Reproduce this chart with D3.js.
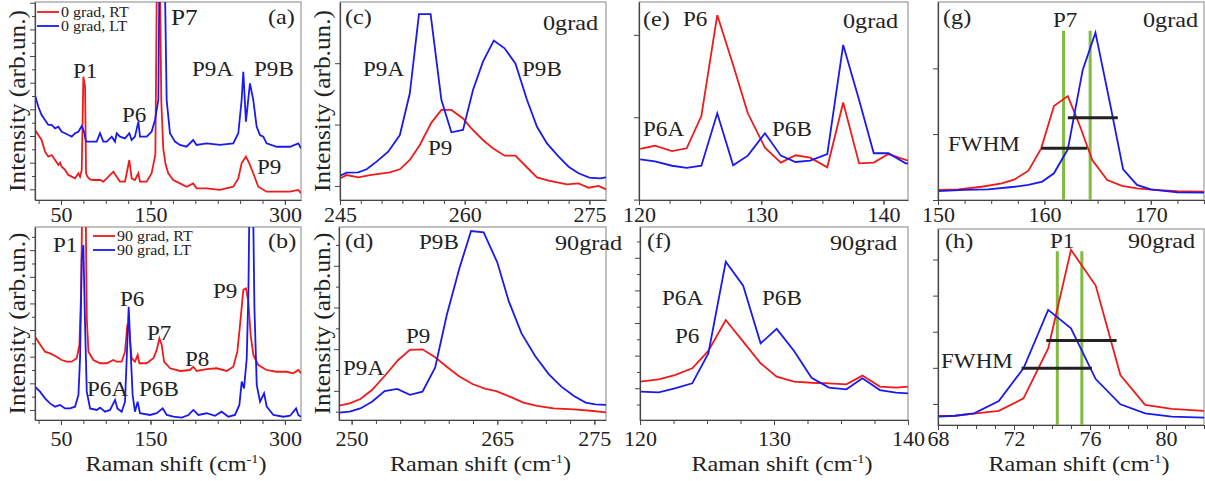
<!DOCTYPE html>
<html>
<head>
<meta charset="utf-8">
<script src="https://cdn.jsdelivr.net/npm/d3@7"></script>
<style>
body { margin: 0; background: #fff; }
svg text { font-family: "Liberation Serif", "Times New Roman", serif; fill: #222; }
</style>
</head>
<body>
<svg id="fig" width="1205" height="481"></svg>
<script>
// spectra: [Raman shift (cm-1), intensity (arb. un.)]
var aRed = [[21,3.54],[24.7,3.28],[28.4,3.03],[32.2,2.44],[35.9,2.19],[39.6,2.27],[43.4,2.02],[47.1,1.77],[49,1.89],[50.8,1.68],[54.5,1.52],[58.3,1.26],[62,1.18],[65.7,1.09],[69.4,1.35],[71.3,1.18],[73.2,1.52],[75,6.23],[76.9,5.72],[78,1.35],[79.5,1.18],[82.5,1.04],[86.2,1.01],[93.6,1.01],[97.3,0.93],[101.1,1.09],[108.5,1.43],[112.2,1.18],[115.9,0.93],[121.5,0.93],[126.3,2.02],[128.9,1.09],[132.6,1.01],[136.4,1.35],[138.2,0.93],[145.7,0.93],[151.2,1.35],[155.4,2.3],[157.6,14],[159.8,14],[162,5],[164.2,2.6],[166.8,1.8],[169.8,1.35],[175.3,1.01],[182.8,0.84],[190.2,0.67],[197.6,0.84],[201.4,0.59],[212.6,0.59],[227.5,0.51],[242.4,0.67],[248,1.09],[251.7,1.85],[256.5,2.19],[260.3,1.85],[264.7,1.35],[270.3,0.67],[279.6,0.42],[290.8,0.42],[305.7,0.42],[315,0.51],[318,0.34]];
var aBlue = [[21,5.3],[24.7,4.71],[28.4,4.29],[32.2,4.04],[35.9,3.79],[39.6,3.79],[43.4,3.62],[47.1,3.7],[50.8,3.45],[54.5,3.37],[58.3,3.28],[62,3.2],[65.7,3.37],[69.4,3.45],[73.2,3.74],[75.7,3.45],[78,2.95],[82.5,2.95],[89.9,2.95],[93.6,3.37],[97.3,2.95],[101.1,2.95],[106.7,3.2],[110.3,2.95],[112.2,3.37],[115.9,3.2],[121.5,3.11],[126.3,3.37],[128.9,3.03],[132.6,3.2],[136.4,3.96],[138.2,3.2],[145.7,3.2],[151.2,3.45],[155,4.04],[158.7,5.05],[160.5,14],[165,14],[168,5.05],[171.7,3.37],[177.3,2.95],[182.8,2.78],[190.2,2.69],[197.6,3.03],[201.4,2.78],[212.6,2.86],[227.5,2.78],[242.4,2.86],[248,3.37],[251.7,5.05],[253.6,6.48],[256.5,3.96],[261,5.89],[264.7,5.05],[268.5,3.7],[272.2,3.28],[275.9,3.2],[279.6,2.86],[290.8,2.69],[305.7,2.69],[315,2.86],[318,2.61]];
var bRed = [[21,4.32],[24.7,4.06],[28.4,3.8],[32.2,3.54],[37.8,3.45],[45.2,3.28],[50.8,3.11],[56.4,3.02],[62,3.02],[67.6,3.2],[70.6,3.89],[72.5,6.65],[74.4,14],[77,14],[78.8,5.27],[80.7,3.54],[86.2,3.11],[93.6,2.94],[101.1,2.94],[108.5,3.11],[112.2,3.02],[117.8,3.02],[121.5,3.54],[124.1,4.92],[125.6,4.92],[128.9,3.2],[132.6,3.02],[135.6,3.37],[137.5,2.94],[145.7,2.94],[153.2,3.2],[156.9,3.63],[159.9,4.23],[162.5,3.89],[165.1,3.02],[171.8,2.68],[182.9,2.54],[194.1,2.59],[197.8,2.76],[201.5,2.54],[212.7,2.64],[223.8,2.68],[235,2.54],[242.4,2.76],[246.9,3.54],[249.9,4.92],[253.6,6.74],[256.6,6.82],[259.2,6.13],[261.8,4.4],[264.8,3.37],[270.3,2.85],[279.6,2.59],[290.8,2.5],[301.9,2.5],[309.4,2.42],[315,2.59],[318,2.42]];
var bBlue = [[21,1.73],[26.6,1.47],[32.2,1.12],[37.8,0.86],[43.4,0.69],[49,0.78],[54.5,0.6],[60.2,0.6],[65.7,0.69],[69.5,1.3],[71.3,3.2],[73.2,8.38],[75,9.07],[76.9,4.92],[78.8,1.47],[82.5,0.6],[89.9,0.52],[93.6,0.64],[99.2,0.43],[104.8,0.52],[110.4,1.04],[113,0.6],[117.8,0.43],[121.5,0.95],[123.4,3.2],[125.6,5.87],[127.8,3.54],[130,1.3],[132.6,0.43],[135.6,0.95],[138.2,0.35],[149.4,0.26],[156.9,0.35],[163.6,0.6],[168.1,0.26],[175.5,0.17],[184.8,0.12],[192.3,0.26],[197.8,0.52],[203.4,0.26],[212.7,0.35],[222,0.22],[229.4,0.43],[236.9,0.17],[244.3,0.26],[249.2,0.78],[251.8,1.99],[254.4,1.64],[257.4,3.2],[259.3,6.65],[261.1,14],[263.7,14],[266,5.79],[268.6,1.81],[272.3,0.95],[276.8,1.38],[279.7,0.69],[287.2,0.26],[298.3,0.17],[305.8,0.22],[312.5,0.6],[315,0.26],[318,0.17]];
var cRed = [[245,1.09],[245.8,1.26],[247.2,1.14],[248.6,1.26],[251,1.4],[252.2,1.55],[253.4,2.02],[254.6,2.78],[256,3.91],[257.2,4.55],[258.4,4.55],[259.8,4.12],[260.8,3.62],[262.2,3.03],[263.4,2.61],[264.8,2.24],[266.1,2.24],[267.3,1.73],[268.7,1.14],[270.1,0.98],[272.3,0.79],[273.7,0.84],[274.9,0.62],[276.1,0.71],[277,0.54]];
var cBlue = [[245,1.23],[245.8,1.38],[247.2,1.4],[248.2,1.55],[249.4,1.94],[250.8,2.44],[252.2,3.28],[253.4,5.39],[254.5,9.39],[255.9,9.39],[257.2,5.05],[258.4,3.42],[259.8,3.54],[261,5.56],[262.2,6.99],[263.5,8.05],[264.8,7.66],[266.1,6.9],[267.5,5.05],[268.7,3.7],[269.9,2.86],[271.3,2.19],[272.5,1.68],[273.7,1.35],[275,1.13],[276.3,1.09],[277,1.14]];
var dRed = [[248.7,0.74],[249.8,0.86],[250.9,1.09],[252.1,1.55],[253.4,2.28],[254.8,3.11],[256,3.63],[257.3,3.66],[258.6,3.25],[259.8,2.76],[261.1,2.25],[262.5,1.85],[263.8,1.61],[264.9,1.5],[266.3,1.21],[267.7,0.9],[269.1,0.73],[270.8,0.6],[272.9,0.55],[274.6,0.48],[276.2,0.4]];
var dBlue = [[248.7,0.38],[249.8,0.43],[250.9,0.6],[252.1,0.95],[253.4,1.5],[254.7,1.61],[256,1.3],[257.3,1.47],[258.6,2.71],[259.8,5.44],[261.1,7.86],[262.3,9.79],[263.6,9.72],[265,8.17],[266.2,6.13],[267.5,4.49],[268.9,3.32],[270.3,2.38],[271.6,1.73],[272.9,1.24],[274.1,0.9],[275.1,0.81],[276.2,0.78]];
var eRed = [[120.1,2.58],[121.3,2.74],[122.7,2.47],[123.9,2.61],[125.1,4.24],[126.4,9.34],[127.7,6.82],[128.9,4.38],[130.3,2.64],[131.6,1.89],[132.8,2.26],[134,2.14],[135.4,1.65],[136.7,4.92],[138,1.85],[139.2,1.89],[140.4,2.32],[142,1.99]];
var eBlue = [[120.1,2.05],[121.3,1.95],[122.7,1.73],[123.9,1.62],[125.1,1.73],[126.4,4.38],[127.7,1.75],[128.9,2.24],[130.3,3.37],[131.6,2.24],[132.8,1.92],[134,1.99],[135.4,2.32],[136.7,7.83],[138,5.05],[139.2,2.36],[140.4,2.36],[141.8,1.85],[142,1.85]];
var fRed = [[120,1.99],[121.4,2.11],[122.6,2.33],[123.9,2.68],[125.1,3.58],[126.4,5.18],[127.7,4.06],[129,2.94],[130.2,2.25],[131.5,1.99],[132.8,1.93],[134.1,1.9],[135.4,1.85],[136.6,2.3],[137.9,1.73],[139.1,1.68],[140,1.73]];
var fBlue = [[120,1.47],[121.4,1.43],[122.6,1.64],[123.9,1.9],[125.1,3.45],[126.4,8.2],[127.7,6.96],[129,3.97],[130.2,4.72],[131.5,3.58],[132.8,2.19],[134.1,1.68],[135.4,1.59],[136.6,2.16],[137.9,1.55],[139.1,1.42],[140,1.38]];
var gRed = [[150,0.51],[151.9,0.54],[154.1,0.67],[156,0.84],[157.2,1.04],[158.5,1.48],[159.7,2.61],[160.9,4.75],[162.2,5.25],[163.3,3.79],[164.5,2.02],[165.9,1.01],[167.3,0.71],[168.7,0.59],[170.3,0.51],[172.5,0.45],[175,0.42]];
var gBlue = [[150,0.45],[152.5,0.51],[154.7,0.54],[157.2,0.67],[158.5,0.76],[159.8,0.93],[160.9,1.35],[162.2,2.56],[163.6,6.57],[164.8,8.45],[166.1,5.05],[167.4,1.55],[168.7,0.76],[170,0.54],[172.5,0.39],[175,0.37]];
var hRed = [[68,0.47],[68.9,0.48],[69.9,0.59],[71.2,0.73],[72.5,1.38],[73.8,3.97],[75,9.07],[76.3,7.22],[77.6,2.59],[78.9,1.04],[80.3,0.83],[82,0.73]];
var hBlue = [[68,0.43],[68.9,0.48],[69.9,0.6],[71.2,1.24],[72.5,2.94],[73.8,5.96],[75,5.01],[76.3,2.38],[77.6,1.07],[78.9,0.6],[80.3,0.43],[82,0.38]];

// peak positions (green markers) and FWHM bars [from, to, level]
var gPeaks = [161.8, 164.3];
var gFwhm = [[159.7, 164.0, 2.61], [162.2, 166.9, 4.16]];
var hPeaks = [74.28, 75.57];
var hFwhm = [[72.4, 76.1, 2.94], [73.7, 77.4, 4.37]];

// tick labels
var abTicks = [50, 150, 300];
var cTicks = [245, 260, 275];
var dTicks = [250, 265, 275];
var efTicks = [120, 130, 140];
var gTicks = [150, 160, 170];
var hTicks = [68, 72, 76, 80];

var RED = "#f01a1a", BLUE = "#1a1aee", GREEN = "#80bb40";
var SX = 1.1;
var svg = d3.select("#fig");

var panels = [
  { id: "a", box: [35, 2, 301, 200], xd: [21, 318], yd: [0, 10], step: 25, labels: abTicks, top: true,
    red: aRed, blue: aBlue, yt: d3.range(0.54, 10, 0.673), ymaj: 0,
    notes: [["(a)", 268, 24, 22], ["P1", 73, 78, 21], ["P6", 122, 122, 21], ["P7", 171, 25, 23],
            ["P9A", 192, 76, 21], ["P9B", 254, 76, 21], ["P9", 257, 174, 21]],
    legend: ["0 grad, RT", "0 grad, LT"], lg: [37, 12] },
  { id: "b", box: [35, 227, 301, 420], xd: [21, 318], yd: [0, 10], step: 25, labels: abTicks, top: false,
    red: bRed, blue: bBlue, yt: d3.range(0.52, 10, 0.69), ymaj: 0,
    notes: [["(b)", 268, 248, 22], ["P1", 53, 252, 21], ["P6", 120, 306, 21], ["P7", 147, 340, 21],
            ["P8", 185, 366, 21], ["P9", 213, 298, 21], ["P6A", 87, 396, 21], ["P6B", 139, 396, 21]],
    legend: ["90 grad, RT", "90 grad, LT"], lg: [93, 236] },
  { id: "c", box: [340, 2, 606, 200], xd: [245, 277], yd: [0, 10], step: 2.5, labels: cTicks, top: true,
    red: cRed, blue: cBlue, yt: d3.range(0.71, 10, 3.1), ymaj: -1,
    notes: [["(c)", 345, 24, 22], ["0grad", 543, 30, 22], ["P9A", 363, 76, 21], ["P9B", 522, 76, 21], ["P9", 428, 155, 21]] },
  { id: "d", box: [339, 227, 606, 420], xd: [248.7, 276.2], yd: [0, 10], step: 2.5, labels: dTicks, top: false,
    red: dRed, blue: dBlue, yt: d3.range(0.43, 10, 1.08), ymaj: 1,
    notes: [["(d)", 345, 248, 22], ["90grad", 555, 250, 22], ["P9B", 419, 249, 21], ["P9", 406, 343, 21], ["P9A", 343, 375, 21]] },
  { id: "e", box: [639, 2, 908, 200], xd: [120, 142], yd: [0, 10], step: 2.5, labels: efTicks, top: true,
    red: eRed, blue: eBlue, yt: [0.02, 4.18, 8.34], ymaj: -1,
    notes: [["(e)", 643, 26, 22], ["P6", 683, 26, 21], ["0grad", 843, 28, 22], ["P6A", 643, 136, 21], ["P6B", 772, 136, 21]] },
  { id: "f", box: [640, 227, 908, 420], xd: [120, 140], yd: [0, 10], step: 2.5, labels: efTicks, top: false,
    red: fRed, blue: fBlue, yt: d3.range(0.8, 10, 0.845), ymaj: 1,
    notes: [["(f)", 647, 248, 22], ["90grad", 830, 250, 22], ["P6A", 662, 305, 21], ["P6B", 762, 305, 21], ["P6", 675, 343, 21]] },
  { id: "g", box: [938, 2, 1204, 200], xd: [150, 175], yd: [0, 10], step: 2.5, labels: gTicks, top: true,
    red: gRed, blue: gBlue, yt: [0, 3.33, 6.65], ymaj: -1, peaks: gPeaks, fwhm: gFwhm, pTop: 8.55,
    notes: [["(g)", 943, 24, 22], ["P7", 1053, 27, 21], ["0grad", 1143, 27, 22], ["FWHM", 948, 151, 21]] },
  { id: "h", box: [938, 229, 1204, 425], xd: [68, 82], yd: [0, 10.15], step: 1, labels: hTicks, top: false,
    red: hRed, blue: hBlue, yt: d3.range(1.09, 10, 1.87), ymaj: -1, peaks: hPeaks, fwhm: hFwhm, pTop: 9.0,
    notes: [["(h)", 945, 248, 22], ["P1", 1050, 248, 21], ["90grad", 1128, 248, 22], ["FWHM", 941, 368, 21]] }
];

function note(str, x, y, size) {
  return svg.append("text")
    .attr("transform", "translate(" + x + "," + y + ") scale(" + SX + ",1)")
    .style("font-size", size + "px")
    .text(str);
}

panels.forEach(function (p) {
  var x0 = p.box[0], y0 = p.box[1], x1 = p.box[2], y1 = p.box[3];
  var x = d3.scaleLinear().domain(p.xd).range([x0, x1]);
  var y = d3.scaleLinear().domain(p.yd).range([y1, y0]);

  svg.append("clipPath").attr("id", "clip-" + p.id)
    .append("rect").attr("x", x0).attr("y", y0).attr("width", x1 - x0).attr("height", y1 - y0);

  // frame
  svg.append("rect").attr("x", x0).attr("y", y0).attr("width", x1 - x0).attr("height", y1 - y0)
    .attr("fill", "none").attr("stroke", "#999").attr("stroke-width", 1.2);

  var plot = svg.append("g").attr("clip-path", "url(#clip-" + p.id + ")");
  var line = d3.line().x(function (d) { return x(d[0]); }).y(function (d) { return y(d[1]); });

  if (p.peaks) {
    plot.selectAll(".pk").data(p.peaks).enter().append("line")
      .attr("x1", function (d) { return x(d); }).attr("x2", function (d) { return x(d); })
      .attr("y1", y(p.pTop)).attr("y2", y1)
      .attr("stroke", GREEN).attr("stroke-width", 3);
  }
  plot.append("path").datum(p.red).attr("d", line)
    .attr("fill", "none").attr("stroke", RED).attr("stroke-width", 1.8);
  plot.append("path").datum(p.blue).attr("d", line)
    .attr("fill", "none").attr("stroke", BLUE).attr("stroke-width", 1.8);
  if (p.fwhm) {
    plot.selectAll(".fw").data(p.fwhm).enter().append("line")
      .attr("x1", function (d) { return x(d[0]); }).attr("x2", function (d) { return x(d[1]); })
      .attr("y1", function (d) { return y(d[2]); }).attr("y2", function (d) { return y(d[2]); })
      .attr("stroke", "#222").attr("stroke-width", 3);
  }

  // bottom axis: minor ticks then labelled ticks
  var minor = d3.range(Math.ceil(p.xd[0] / p.step) * p.step, p.xd[1] + 1e-6, p.step);
  var gx = svg.append("g").attr("transform", "translate(0," + y1 + ")")
    .call(d3.axisBottom(x).tickValues(minor).tickSize(4).tickSizeOuter(0).tickFormat(""));
  var gl = svg.append("g").attr("transform", "translate(0," + y1 + ")")
    .call(d3.axisBottom(x).tickValues(p.labels).tickSize(5).tickSizeOuter(0).tickFormat(d3.format("d")));
  gl.select(".domain").remove();
  // all labels of a row share one baseline
  gl.selectAll("text").attr("y", p.top ? 222 - y1 : 446 - y1).attr("dy", null)
    .style("font-size", "22px").style("font-family", "Liberation Serif, serif").attr("fill", "#222");
  [gx, gl].forEach(function (g) {
    g.selectAll("line").attr("stroke", "#444");
    g.select(".domain").attr("stroke", "#444").attr("stroke-width", 1.2);
  });

  // left axis, ticks only
  var gy = svg.append("g").attr("transform", "translate(" + x0 + ",0)")
    .call(d3.axisLeft(y).tickValues(p.yt).tickSizeOuter(0).tickFormat(""));
  gy.selectAll(".tick line").attr("stroke", "#444")
    .attr("x2", function (d, i) { return (p.ymaj < 0 || i % 2 === p.ymaj) ? -5 : -3; });
  gy.select(".domain").attr("stroke", "#444").attr("stroke-width", 1.2);

  p.notes.forEach(function (n) { note(n[0], n[1], n[2], n[3]); });

  if (p.legend) {
    [RED, BLUE].forEach(function (c, i) {
      var ly = p.lg[1] + i * 14;
      svg.append("line").attr("x1", p.lg[0]).attr("x2", p.lg[0] + 22)
        .attr("y1", ly).attr("y2", ly).attr("stroke", c).attr("stroke-width", 1.8);
      note(p.legend[i], p.lg[0] + 24, ly + 5, 14.5);
    });
  }

  if (!p.top) {
    var t = svg.append("text")
      .attr("transform", "translate(" + ((x0 + x1) / 2 + 8) + ",471) scale(" + SX + ",1)")
      .attr("text-anchor", "middle").style("font-size", "22px");
    t.append("tspan").text("Raman shift (cm");
    t.append("tspan").attr("dy", -8).style("font-size", "13px").text("-1");
    t.append("tspan").attr("dy", 8).text(")");
  }
  if (p.id === "a" || p.id === "b" || p.id === "c" || p.id === "d") {
    var lx = p.id === "a" || p.id === "b" ? 17 : 322;
    svg.append("text")
      .attr("transform", "translate(" + (lx + 8) + "," + ((y0 + y1) / 2) + ") rotate(-90) scale(" + SX + ",1)")
      .attr("text-anchor", "middle").style("font-size", "23px")
      .text("Intensity (arb.un.)");
  }
});
</script>
</body>
</html>
